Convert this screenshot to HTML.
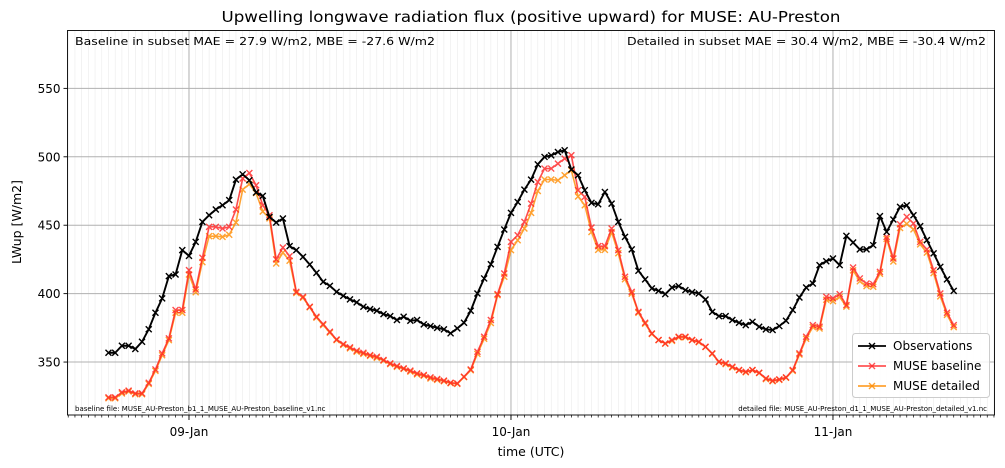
<!DOCTYPE html>
<html><head><meta charset="utf-8">
<style>
body{margin:0;background:#fff;}
svg{display:block;font-family:"DejaVu Sans","Liberation Sans",sans-serif;}
</style></head>
<body>
<svg id="chart" width="1005" height="468" viewBox="0 0 1005 468">
  <rect x="0" y="0" width="1005" height="468" fill="#fff"/>
  <g id="grid"></g>
  <g id="series"></g>
  <rect x="67.5" y="30.5" width="927" height="384.5" fill="none" stroke="#000" stroke-width="0.9"/>
  <g id="axes"></g>
  <text x="531" y="22" font-size="15.5" text-anchor="middle" textLength="619" lengthAdjust="spacingAndGlyphs">Upwelling longwave radiation flux (positive upward) for MUSE: AU-Preston</text>
  <text x="75" y="45" font-size="11" textLength="360" lengthAdjust="spacingAndGlyphs">Baseline in subset MAE = 27.9 W/m2, MBE = -27.6 W/m2</text>
  <text x="627" y="45" font-size="11" textLength="359" lengthAdjust="spacingAndGlyphs">Detailed in subset MAE = 30.4 W/m2, MBE = -30.4 W/m2</text>
  <text x="75" y="411" font-size="7">baseline file: MUSE_AU-Preston_b1_1_MUSE_AU-Preston_baseline_v1.nc</text>
  <text x="987" y="411" font-size="7" text-anchor="end">detailed file: MUSE_AU-Preston_d1_1_MUSE_AU-Preston_detailed_v1.nc</text>
  <text x="531" y="456" font-size="12.5" text-anchor="middle">time (UTC)</text>
  <text x="21" y="222" font-size="12.5" text-anchor="middle" transform="rotate(-90 21 222)">LWup [W/m2]</text>
  <g>
    <rect x="852.5" y="333.5" width="137" height="64" rx="3" fill="#fff" fill-opacity="0.85" stroke="#ccc"/>
    <g>
      <line x1="858" y1="346" x2="886" y2="346" stroke="#000" stroke-width="1.8"/>
      <path d="M869,343L875,349M869,349L875,343" stroke="#000" stroke-width="1.4"/>
      <text x="893" y="350" font-size="12">Observations</text>
    </g>
    <g>
      <line x1="858" y1="366" x2="886" y2="366" stroke="#ff2a2a" stroke-width="1.8" opacity="0.8"/>
      <path d="M869,363L875,369M869,369L875,363" stroke="#ff2a2a" stroke-width="1.4" opacity="0.8"/>
      <text x="893" y="370" font-size="12">MUSE baseline</text>
    </g>
    <g>
      <line x1="858" y1="386" x2="886" y2="386" stroke="#ff8c00" stroke-width="1.8" opacity="0.8"/>
      <path d="M869,383L875,389M869,389L875,383" stroke="#ff8c00" stroke-width="1.4" opacity="0.8"/>
      <text x="893" y="390" font-size="12">MUSE detailed</text>
    </g>
  </g>
</svg>
<script>
// Half-hourly data from 08-Jan 18:00 (index 0) to 11-Jan 09:00 (index 126)
const yTicks = [350, 400, 450, 500, 550];
const dayLabels = ["09-Jan", "10-Jan", "11-Jan"];
const dayIndex = [12, 60, 108];
const observations = [356.8,356.8,361.9,361.9,359.5,364.8,374,386,396.5,412.8,414,431.8,427.6,437.8,452.4,457.3,461.5,464.6,468.3,483.3,487.2,482.9,473.9,471.4,456,452,454.9,434.7,431.8,426.9,421.3,415.2,408.6,405.7,401.3,398.4,395.8,393.6,390.4,388.7,387.5,385,383.6,380.7,383.1,380.2,380.7,
377.5,376.3,375,373.9,371,374.6,378.7,387.5,400.1,411.1,421.5,434.2,446.9,459,467,476,483.3,494.5,499.9,501,503.5,504.8,490.7,486.5,475.6,466.3,465.3,474.3,465.8,452.4,441.5,432.3,416.7,410.4,403.8,402,399.6,404.5,405.5,402.6,401.1,400.1,
395.7,386.7,383.6,383.6,380.7,378.7,377,379.4,375.8,373.9,373.4,376.3,380.2,388,397.2,404.5,407.4,420.8,423.7,425.7,420.8,442.2,437.4,432.3,432.3,435.4,456.6,445.1,454.2,463.4,464.6,457.3,449.3,439.1,429.4,419.6,410.4,402];
const baseline = [324.2,324.2,327.9,329.1,327.1,327.1,334.9,344.6,356.3,367.3,388,388,417.2,403,426.2,448.8,448.8,447.6,448.8,461.5,484.1,488.2,479.2,464.6,457.3,425,433.7,427.4,401.3,397.7,390.4,383.1,377.7,372.1,366.5,363.1,360.7,358.3,356.8,355.1,353.9,351.5,349,347.1,345.4,343.7,341.7,
340.5,338.8,337.6,336.4,334.9,334.4,339.3,344.6,357.5,368.5,380.7,399.6,414.7,437.8,442.7,452.4,465.8,481.6,491.4,491.4,495,498.7,501.1,475.6,470.7,448.3,434.7,434.7,447.6,431.8,412.3,401.3,386.7,378.7,370.9,366.1,363.6,366.1,368.5,368.5,366.1,364.8,
361.2,356.3,350.2,349,346.6,344.2,342.9,344.2,342.2,338.1,336.4,337.3,338.8,344.2,356.3,368.5,377,375.8,397.7,396.5,399.6,391.6,419.1,411.1,407.4,406.9,415.9,441.5,425.7,450.7,456.1,451.3,437.8,432.3,417.2,400.1,386,377];
const detailed = [323.5,323.5,327,328.5,326.5,326.5,334,343.5,355,366,386,386,414,401,423,442,442,441.5,443,452,476,480,473.5,460,455,422,430,424,400.5,397,390,382.5,377,371.5,366,362.5,360,357.5,356,354.5,353,351,348.5,346.5,345,343,341,
340,338,337,336,334.5,334,339,344,356,367,378.5,398.9,412.3,431.8,439,447.6,459,475,483.4,483.4,482.8,486.5,490.1,471,464.6,445,432,432,445,429.5,410.5,400,386,378,370.5,366,363.5,365.5,368,368,366,364.5,
361,356,350,348.5,346,344,342.5,344,342,337.5,336,337,338.5,343.5,355.5,367,375.5,374.5,395.5,394.5,397.5,390.5,417,409,405.5,405,414.5,440,423.5,448,451,447,436,430,415,398,384.5,375.5];

const NS = "http://www.w3.org/2000/svg";
const X0 = 67.5, X1 = 994.5, Y0 = 30.5, Y1 = 415;
const xMin = -6.11, xMax = 132.08;      // in half-hour index units
const yMin = 311.3, yMax = 592.3;
function xs(i){ return X0 + (i - xMin) / (xMax - xMin) * (X1 - X0); }
function ys(v){ return Y1 - (v - yMin) / (yMax - yMin) * (Y1 - Y0); }
function mk(tag, attrs, parent){
  const e = document.createElementNS(NS, tag);
  for (const k in attrs) e.setAttribute(k, attrs[k]);
  parent.appendChild(e); return e;
}
const grid = document.getElementById('grid');
const axes = document.getElementById('axes');
const series = document.getElementById('series');

for (let i = Math.ceil(xMin); i <= xMax; i++) {
  const x = xs(i);
  const g = mk('line', {x1:x, x2:x, y1:Y0, y2:Y1, stroke:'#ebebeb', 'stroke-width':0.6}, grid);
  
  
  const t = mk('line', {x1:x, x2:x, y1:Y1, y2:Y1+2.5, stroke:'#000', 'stroke-width':0.7}, axes);
  
  
}
dayIndex.forEach((di, k) => {
  const x = xs(di);
  const g = mk('line', {x1:x, x2:x, y1:Y0, y2:Y1, stroke:'#b0b0b0', 'stroke-width':1}, grid);
  
  
  const t = mk('line', {x1:x, x2:x, y1:Y1, y2:Y1+5, stroke:'#000', 'stroke-width':0.9}, axes);
  
  
  const tx = mk('text', {x:x, y:Y1+21, 'font-size':12, 'text-anchor':'middle'}, axes);
  tx.textContent = dayLabels[k];
  
  
});
yTicks.forEach(v => {
  const y = ys(v);
  const g = mk('line', {x1:X0, x2:X1, y1:y, y2:y, stroke:'#b0b0b0', 'stroke-width':1}, grid);
  
  
  const t = mk('line', {x1:X0-4, x2:X0, y1:y, y2:y, stroke:'#000', 'stroke-width':0.9}, axes);
  
  
  const tx = mk('text', {x:X0-7, y:y+4.5, 'font-size':12, 'text-anchor':'end'}, axes);
  tx.textContent = v;
  
  
});

function drawSeries(vals, color, name, width, opacity){
  const g = mk('g', {opacity:opacity}, series);
  
  
  const pts = vals.map((v, i) => xs(i).toFixed(2) + ',' + ys(v).toFixed(2)).join(' ');
  const pl = mk('polyline', {points:pts, fill:'none', stroke:color, 'stroke-width':width, 'stroke-linejoin':'round'}, g);
  
  
  vals.forEach((v, i) => {
    const x = xs(i), y = ys(v), s = 3;
    const m = mk('path', {d:`M${x-s},${y-s}L${x+s},${y+s}M${x-s},${y+s}L${x+s},${y-s}`, stroke:color, 'stroke-width':1.4}, g);
    
    
  });
}
drawSeries(detailed, '#ff8c00', 'muse-detailed', 1.6, 0.8);
drawSeries(baseline, '#ff2020', 'muse-baseline', 1.6, 0.8);
drawSeries(observations, '#000000', 'observations', 1.9, 1);
</script>
</body></html>
